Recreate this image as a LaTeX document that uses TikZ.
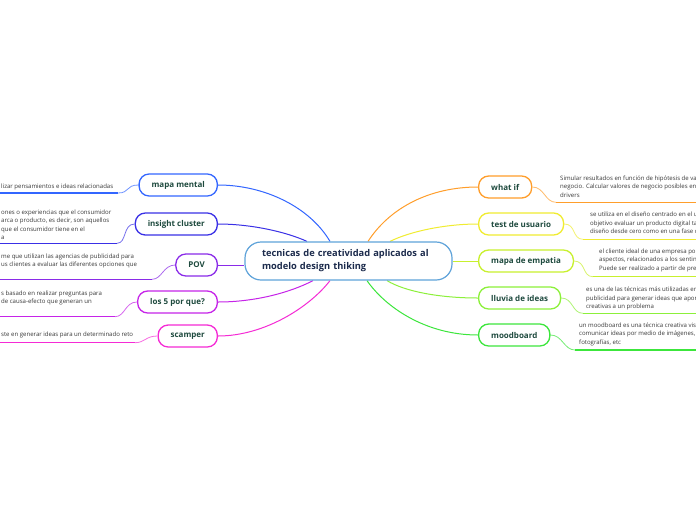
\documentclass[tikz,border=0pt]{standalone}
\usepackage{fontspec}
\setmainfont{Open Sans}
\usetikzlibrary{positioning}

\pgfdeclarelayer{background}
\pgfsetlayers{background,main}

\definecolor{rootblue}{HTML}{5FA3DA}
\definecolor{rootnavy}{HTML}{1C2B4C}
\definecolor{labelgreen}{HTML}{1E4A3E}
\definecolor{notegray}{HTML}{3A3A3A}
\definecolor{mentalblue}{HTML}{3366FF}
\definecolor{insightblue}{HTML}{3A30E6}
\definecolor{povviolet}{HTML}{8A2BE8}
\definecolor{whysmagenta}{HTML}{C624E8}
\definecolor{scamperpink}{HTML}{F52BD5}
\definecolor{whatiforange}{HTML}{FF9E2B}
\definecolor{testyellow}{HTML}{F0EC30}
\definecolor{empatiagreen}{HTML}{C8F02E}
\definecolor{lluviagreen}{HTML}{8CF03A}
\definecolor{moodgreen}{HTML}{3CE63C}

\begin{document}
\begin{tikzpicture}[
    x=1pt, y=-1pt,
    central/.style={rectangle, draw=rootblue, fill=white, line width=1.2pt, rounded corners=16pt,
                minimum width=207pt, minimum height=38pt, text width=173pt, inner xsep=17pt,
                align=left, text=rootnavy, font=\fontsize{9.3}{13}\selectfont\bfseries},
    topic/.style={rectangle, draw=#1, fill=white, line width=1.3pt, rounded corners=10pt,
                minimum height=22pt, inner xsep=12.5pt, inner ysep=0pt,
                text=labelgreen, font=\fontsize{8}{10}\selectfont\bfseries},
    note/.style={inner sep=0pt, align=left, anchor=north west, text=notegray,
                font=\fontsize{6.05}{8.5}\selectfont},
    branch/.style={draw=#1, line width=1pt},
    link/.style={draw=#1!70, line width=0.8pt},
    under/.style={draw=#1, line width=1.4pt}
]

\useasboundingbox (0,0) rectangle (696,520);
\clip (0,0) rectangle (696,520);

% Central topic
\node[central] (root) at (348.5,261) {tecnicas de creatividad aplicados al\\modelo design thiking};

% Left topics
\node[topic=mentalblue, anchor=east] (mental) at (218,185) {mapa mental};
\node[topic=insightblue, anchor=east] (insight) at (218,224) {insight cluster};
\node[topic=povviolet, anchor=east] (pov) at (218,265) {POV};
\node[topic=whysmagenta, anchor=east] (whys) at (218,302) {los 5 por que?};
\node[topic=scamperpink, anchor=east] (scamper) at (218,336) {scamper};

% Right topics
\node[topic=whatiforange, anchor=west] (whatif) at (478,187) {what if};
\node[topic=testyellow, anchor=west] (test) at (478,224) {test de usuario};
\node[topic=empatiagreen, anchor=west] (empatia) at (478,261) {mapa de empatia};
\node[topic=lluviagreen, anchor=west] (lluvia) at (478,298) {lluvia de ideas};
\node[topic=moodgreen, anchor=west] (mood) at (478,335) {moodboard};

% Branches from the central topic (behind the boxes)
\begin{pgfonlayer}{background}
\fill[white] (0,0) rectangle (696,520);
\draw[branch=mentalblue] (mental.east) .. controls +(47,0) and +(-20,-34) .. ([xshift=-18.5pt]root.north);
\draw[branch=insightblue] (insight.east) .. controls +(32,0) and +(-22,-10) .. ([xshift=-41.5pt]root.north);
\draw[branch=povviolet] (pov.east) -- (root.west |- pov.east);
\draw[branch=whysmagenta] (whys.east) .. controls +(37,0) and +(-23,12) .. ([xshift=-35.5pt]root.south);
\draw[branch=scamperpink] (scamper.east) .. controls +(47,0) and +(-20,26) .. ([xshift=-18.5pt]root.south);
\draw[branch=whatiforange] (whatif.west) .. controls +(-48,0) and +(22,-34) .. ([xshift=19.5pt]root.north);
\draw[branch=testyellow] (test.west) .. controls +(-33,0) and +(20,-10) .. ([xshift=41.5pt]root.north);
\draw[branch=empatiagreen] (root.east) -- (empatia.west);
\draw[branch=lluviagreen] (lluvia.west) .. controls +(-38,0) and +(18,11) .. ([xshift=38.5pt]root.south);
\draw[branch=moodgreen] (mood.west) .. controls +(-53,0) and +(18,26) .. ([xshift=18.5pt]root.south);
\end{pgfonlayer}

% Left notes
\node[note] (mentaltxt) at (1,183.5) {lizar pensamientos e ideas relacionadas};
\coordinate (mentalA) at (118,193);
\coordinate (mentalB) at (0,193);
\draw[link=mentalblue] (mental.west) .. controls +(-13,0) and +(12,0) .. (mentalA);
\draw[under=mentalblue] (mentalA) -- (mentalB);

\node[note] (insighttxt) at (1,209.2) {ones o experiencias que el consumidor\\arca o producto, es decir, son aquellos\\que el consumidor tiene en el\\a};
\coordinate (insightA) at (117,243.3);
\coordinate (insightB) at (0,243.3);
\draw[link=insightblue] (insight.west) .. controls +(-12,0) and +(10,0) .. (insightA);
\draw[under=insightblue] (insightA) -- (insightB);

\node[note] (povtxt) at (1,253.5) {me que utilizan las agencias de publicidad para\\us clientes a evaluar las diferentes opciones que};
\coordinate (povA) at (152,279.3);
\coordinate (povB) at (0,279.3);
\draw[link=povviolet] (pov.west) .. controls +(-12,0) and +(10,0) .. (povA);
\draw[under=povviolet] (povA) -- (povB);

\node[note] (whystxt) at (1,290.3) {s basado en realizar preguntas para\\de causa-efecto que generan un};
\coordinate (whysA) at (115,316.7);
\coordinate (whysB) at (0,316.7);
\draw[link=whysmagenta] (whys.west) .. controls +(-12,0) and +(10,0) .. (whysA);
\draw[under=whysmagenta] (whysA) -- (whysB);

\node[note] (scampertxt) at (1,331.8) {ste en generar ideas para un determinado reto};
\coordinate (scamperA) at (135,342.7);
\coordinate (scamperB) at (0,342.7);
\draw[link=scamperpink] (scamper.west) .. controls +(-12,0) and +(10,0) .. (scamperA);
\draw[under=scamperpink] (scamperA) -- (scamperB);

% Right notes
\node[note] (whatiftxt) at (560,175.2) {Simular resultados en función de hipótesis de var\\negocio. Calcular valores de negocio posibles en\\drivers};
\coordinate (whatifA) at (556,202.3);
\coordinate (whatifB) at (696,202.3);
\draw[link=whatiforange] (whatif.east) .. controls +(12,0) and +(-11,0) .. (whatifA);
\draw[under=whatiforange] (whatifA) -- (whatifB);

\node[note] (testtxt) at (590,211.8) {se utiliza en el diseño centrado en el u\\objetivo evaluar un producto digital ta\\diseño desde cero como en una fase d};
\coordinate (testA) at (583,239.3);
\coordinate (testB) at (696,239.3);
\draw[link=testyellow] (test.east) .. controls +(12,0) and +(-11,0) .. (testA);
\draw[under=testyellow] (testA) -- (testB);

\node[note] (empatiatxt) at (599,248.5) {el cliente ideal de una empresa po\\aspectos, relacionados a los sentin\\Puede ser realizado a partir de pre};
\coordinate (empatiaA) at (593,276.7);
\coordinate (empatiaB) at (696,276.7);
\draw[link=empatiagreen] (empatia.east) .. controls +(12,0) and +(-11,0) .. (empatiaA);
\draw[under=empatiagreen] (empatiaA) -- (empatiaB);

\node[note] (lluviatxt) at (586,286.8) {es una de las técnicas más utilizadas er\\publicidad para generar ideas que apor\\creativas a un problema};
\coordinate (lluviaA) at (583,313.3);
\coordinate (lluviaB) at (696,313.3);
\draw[link=lluviagreen] (lluvia.east) .. controls +(12,0) and +(-11,0) .. (lluviaA);
\draw[under=lluviagreen] (lluviaA) -- (lluviaB);

\node[note] (moodtxt) at (579,322.5) {un moodboard es una técnica creativa visi\\comunicar ideas por medio de imágenes,\\fotografías, etc};
\coordinate (moodA) at (575,350);
\coordinate (moodB) at (696,350);
\draw[link=moodgreen] (mood.east) .. controls +(12,0) and +(-11,0) .. (moodA);
\draw[under=moodgreen] (moodA) -- (moodB);

\end{tikzpicture}
\end{document}
